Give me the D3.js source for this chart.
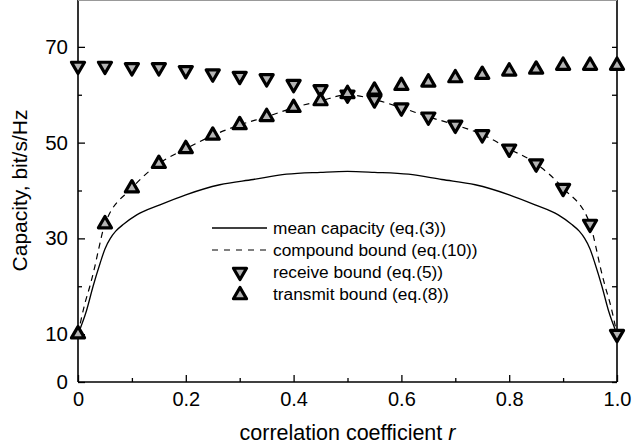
<!DOCTYPE html>
<html><head><meta charset="utf-8">
<script src="https://cdn.jsdelivr.net/npm/d3@7"></script>
<style>body{margin:0;background:#fff} text{font-family:Arial,"Liberation Sans",sans-serif;fill:#000}</style>
</head><body><svg id="c" width="633" height="448"></svg>
<script>
const rMarkers = [0,0.05,0.1,0.15,0.2,0.25,0.3,0.35,0.4,0.45,0.5,0.55,0.6,0.65,0.7,0.75,0.8,0.85,0.9,0.95,1.0];
const receiveBound = [66.0,66.0,65.7,65.7,65.1,64.4,63.9,63.4,62.2,61.1,60.0,59.0,57.3,55.4,53.7,51.7,48.7,45.6,40.5,33.0,10.0];
const transmitBound = [10.0,33.0,40.5,45.6,48.7,51.5,53.7,55.4,57.3,58.7,60.2,60.9,61.9,62.6,63.5,64.2,64.9,65.3,66.1,66.1,66.1];
const meanR = [0,0.016,0.028,0.041,0.05,0.06,0.07,0.085,0.109,0.152,0.2,0.263,0.325,0.387,0.45,0.5,0.55,0.613,0.675,0.737,0.8,0.848,0.891,0.915,0.93,0.94,0.95,0.959,0.972,0.984,1];
const meanCap = [10,15,20,24.8,27.8,30,31.5,33,34.9,37,39.1,41.2,42.3,43.4,43.8,44.0,43.8,43.4,42.3,41.2,39.1,37,34.9,33,31.5,30,27.8,24.8,20,15,10];
const compR = [0,0.013,0.022,0.031,0.038,0.05,0.1,0.15,0.2,0.25,0.3,0.35,0.4,0.45,0.5,0.55,0.6,0.65,0.7,0.75,0.8,0.85,0.9,0.95,0.962,0.969,0.978,0.987,1];
const compCap = [10,16.5,20,24,27.6,33,40.5,45.6,48.7,51.5,53.7,55.4,57.3,58.7,60,59,57.3,55.4,53.7,51.7,48.7,45.6,40.5,33,27.6,24,20,16.5,10];
const xMajor = [0,0.2,0.4,0.6,0.8,1.0];
const xMinor = [0.1,0.3,0.5,0.7,0.9];
const xTickLabels = ["0","0.2","0.4","0.6","0.8","1.0"];
const yMajor = [0,10,30,50,70];
const yMinor = [20,40,60];
const legendLabels = ["mean capacity (eq.(3))","compound bound (eq.(10))","receive bound (eq.(5))","transmit bound (eq.(8))"];

const svg = d3.select("#c");
const x = d3.scaleLinear().domain([0,1]).range([78,617]);
const y = d3.scaleLinear().domain([0,80]).range([382,-1]);

// frame
const fr = svg.append("g").attr("stroke","#000").attr("stroke-width",1.6);
fr.append("line").attr("x1",x(0)).attr("x2",x(1)).attr("y1",y(0)).attr("y2",y(0));
fr.append("line").attr("x1",x(0)).attr("x2",x(0)).attr("y1",y(0)).attr("y2",0);
fr.append("line").attr("x1",x(1)).attr("x2",x(1)).attr("y1",y(0)).attr("y2",0);
fr.append("line").attr("x1",x(0)).attr("x2",x(1)).attr("y1",0.5).attr("y2",0.5).attr("stroke","#999").attr("stroke-width",1);

// axes via d3
const xa = d3.axisBottom(x).tickValues(xMajor).tickSize(-7).tickFormat((d,i)=>xTickLabels[i]).tickPadding(10);
const gx = svg.append("g").attr("transform",`translate(0,${y(0)})`).call(xa);
gx.select(".domain").remove();
gx.selectAll("line").attr("stroke-width",1.3);
gx.selectAll("text").attr("font-size",20).attr("dy","0.71em");
const xm = svg.append("g").attr("transform",`translate(0,${y(0)})`).call(d3.axisBottom(x).tickValues(xMinor).tickSize(-4).tickFormat(""));
xm.select(".domain").remove(); xm.selectAll("line").attr("stroke-width",1.3);

const ya = d3.axisLeft(y).tickValues(yMajor).tickSize(-7).tickPadding(10);
const gy = svg.append("g").attr("transform",`translate(${x(0)},0)`).call(ya);
gy.select(".domain").remove();
gy.selectAll("line").attr("stroke-width",1.3);
gy.selectAll("text").attr("font-size",20.5);
const ym = svg.append("g").attr("transform",`translate(${x(0)},0)`).call(d3.axisLeft(y).tickValues(yMinor).tickSize(-4).tickFormat(""));
ym.select(".domain").remove(); ym.selectAll("line").attr("stroke-width",1.3);

const yr = svg.append("g").attr("transform",`translate(${x(1)},0)`).call(d3.axisRight(y).tickValues(yMajor.concat(yMinor)).tickSize(-5).tickFormat(""));
yr.select(".domain").remove(); yr.selectAll("line").attr("stroke-width",1.3);

// titles
svg.append("text").attr("x",(x(0)+x(1))/2).attr("y",440).attr("text-anchor","middle").attr("font-size",21.5)
  .html('correlation coefficient <tspan font-style="italic">r</tspan>');
svg.append("text").attr("transform",`translate(27,${y(40)}) rotate(-90)`).attr("text-anchor","middle").attr("font-size",21)
  .text("Capacity, bit/s/Hz");

// lines
const line = d3.line().x(d=>x(d[0])).y(d=>y(d[1])).curve(d3.curveMonotoneX);
svg.append("path").datum(compR.map((r,i)=>[r,compCap[i]])).attr("d",line)
  .attr("fill","none").attr("stroke","#000").attr("stroke-width",1.2).attr("stroke-dasharray","6,5");
svg.append("path").datum(meanR.map((r,i)=>[r,meanCap[i]])).attr("d",line)
  .attr("fill","none").attr("stroke","#000").attr("stroke-width",1.3);

// markers
const tri = d3.symbol().type(d3.symbolTriangle).size(74);
function markers(vals, down){
  svg.append("g").selectAll("path").data(rMarkers.map((r,i)=>[r,vals[i]])).join("path")
    .attr("d",tri).attr("transform",d=>`translate(${x(d[0])},${y(d[1])})${down?" rotate(180)":""}`)
    .attr("fill","#b4b4b4").attr("stroke","#000").attr("stroke-width",3.2).attr("stroke-linejoin","round");
}
markers(receiveBound,true);
markers(transmitBound,false);

// legend
const lg = svg.append("g");
const ly = [228,250,272,294];
lg.append("line").attr("x1",212).attr("x2",267).attr("y1",ly[0]).attr("y2",ly[0]).attr("stroke","#000").attr("stroke-width",1.3);
lg.append("line").attr("x1",212).attr("x2",267).attr("y1",ly[1]).attr("y2",ly[1]).attr("stroke","#000").attr("stroke-width",1.2).attr("stroke-dasharray","6,6");
lg.append("path").attr("d",tri).attr("transform",`translate(240,${ly[2]}) rotate(180)`).attr("fill","#b4b4b4").attr("stroke","#000").attr("stroke-width",3.2).attr("stroke-linejoin","round");
lg.append("path").attr("d",tri).attr("transform",`translate(240,${ly[3]+1})`).attr("fill","#b4b4b4").attr("stroke","#000").attr("stroke-width",3.2).attr("stroke-linejoin","round");
lg.selectAll("text").data(legendLabels).join("text").attr("x",273).attr("y",(d,i)=>ly[i]).attr("dy","0.35em")
  .attr("font-size",17.3).text(d=>d);
</script></body></html>
